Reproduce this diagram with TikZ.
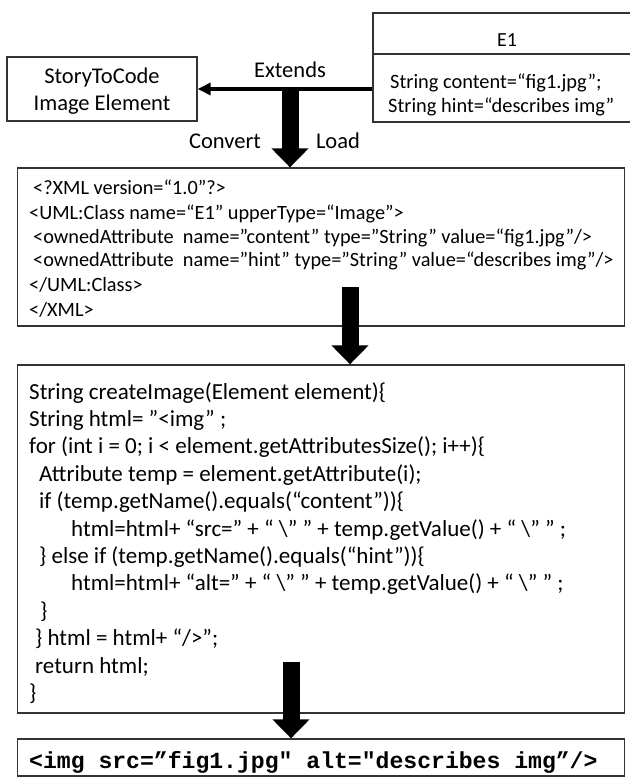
\documentclass[tikz,border=0pt]{standalone}
\usepackage{fontspec}
\setmainfont{Carlito}
\newfontfamily\monofont{Liberation Mono}
\usetikzlibrary{arrows.meta}

\tikzset{
  frame/.style={draw=black!80, line width=1.3bp, inner sep=0pt, fill=white},
  txt/.style={inner sep=0pt, font=\fontsize{#1bp}{#1bp}\selectfont},
  ln/.style={txt=#1, anchor=base west},
  thinarrow/.style={line width=3.5bp, -{Triangle[length=13bp,width=12bp]}},
  bigarrow/.style={line width=17bp, -{Triangle[length=19bp,width=36bp]}},
}

\begin{document}
\begin{tikzpicture}[x=1bp,y=-1bp]
\useasboundingbox (0,0) rectangle (630,778);
\clip (0,0) rectangle (630,778);

% class E1 (runs off the right edge)
\node[frame, minimum width=268bp, minimum height=109bp] (e1) at (507,67.5) {};
\draw[draw=black!80, line width=1.3bp] (373,54) -- (641,54);
\node[txt=20] (e1name) at (507,40) {E1};
\node[ln=20.4] (attr1) at (390,88) {String content=“fig1.jpg”;};
\node[ln=20.4] (attr2) at (388,112) {String hint=“describes img”};

% base element
\node[frame, minimum width=190bp, minimum height=64bp] (story) at (102,89) {};
\node[inner sep=0pt, align=center, font=\fontsize{22.5bp}{27bp}\selectfont] (storytxt) at (102,91) {StoryToCode\\Image Element};

% XML serialisation
\node[frame, minimum width=607bp, minimum height=158bp] (xml) at (321,247) {};
\node[ln=20.3] (x1) at (33,194) {<?XML version=“1.0”?>};
\node[ln=20.3] (x2) at (29,219) {<UML:Class name=“E1” upperType=“Image”>};
\node[ln=20.3] (x3) at (33,243) {<ownedAttribute\ \ name=”content" type=”String” value=“fig1.jpg”/>};
\node[ln=20.3] (x4) at (33,266) {<ownedAttribute\ \ name=”hint" type=”String” value=“describes img”/>};
\node[ln=20.3] (x5) at (29,291) {</UML:Class>};
\node[ln=20.3] (x6) at (29,316) {</XML>};

% generator code
\node[frame, minimum width=607bp, minimum height=348bp] (code) at (321,539) {};
\node[ln=23] (c1) at (29,399) {String createImage(Element element)\{};
\node[ln=23] (c2) at (29,426.4) {String html= ”<img" ;};
\node[ln=23] (c3) at (29,453.8) {for (int i = 0; i < element.getAttributesSize(); i++)\{};
\node[ln=23] (c4) at (39,481.2) {Attribute temp = element.getAttribute(i);};
\node[ln=23] (c5) at (39,508.6) {if (temp.getName().equals(“content”))\{};
\node[ln=23] (c6) at (71,536) {html=html+ “src=” + “ \textbackslash” ” + temp.getValue() + “ \textbackslash” ” ;};
\node[ln=23] (c7) at (39,563.4) {\} else if (temp.getName().equals(“hint”))\{};
\node[ln=23] (c8) at (71,590.8) {html=html+ “alt=” + “ \textbackslash” ” + temp.getValue() + “ \textbackslash” ” ;};
\node[ln=23] (c9) at (40,618.2) {\}};
\node[ln=23] (c10) at (35,645.6) {\} html = html+ “/>”;};
\node[ln=23] (c11) at (35,673) {return html;};
\node[ln=23] (c12) at (29,700.4) {\}};

% resulting HTML
\node[frame, minimum width=607bp, minimum height=37bp] (out) at (321,757.5) {};
\node[inner sep=0pt, anchor=base west, font=\monofont\bfseries\fontsize{23.1bp}{28bp}\selectfont] (outtxt) at (29,768) {<img src=”fig1.jpg" alt="describes img”/>};

% connectors
\draw[thinarrow] (e1.west |- story.east) -- (story.east);
\node[txt=22.5] (ext) at (290,70) {Extends};
\coordinate (j1) at (290,89);
\draw[bigarrow] (j1) -- (j1 |- xml.north);
\node[txt=22.5] (convert) at (225,141) {Convert};
\node[txt=22.5] (load) at (338,141) {Load};
\coordinate (j2) at (350,287);
\draw[bigarrow] (j2) -- (j2 |- code.north);
\coordinate (j3) at (291,662);
\draw[bigarrow] (j3) -- (j3 |- out.north);
\end{tikzpicture}
\end{document}
